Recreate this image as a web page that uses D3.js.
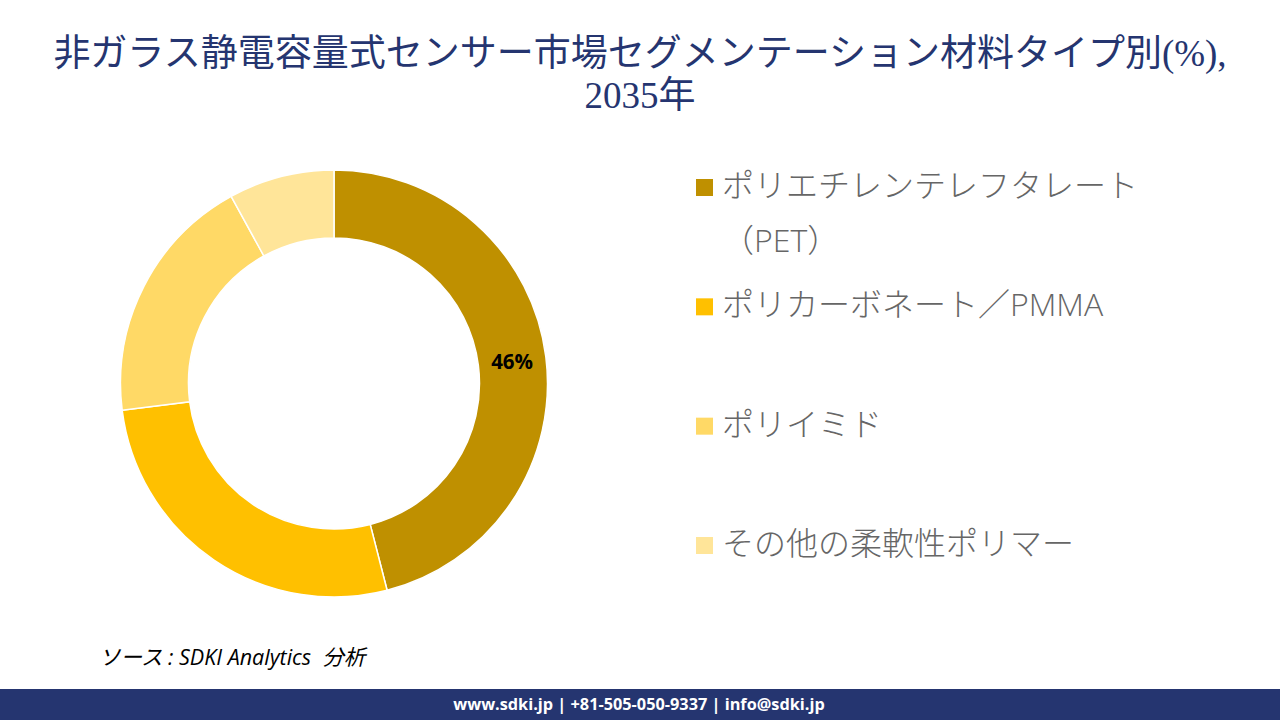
<!DOCTYPE html>
<html>
<head>
<meta charset="utf-8">
<script src="https://cdn.jsdelivr.net/npm/d3@7"></script>
<style>
  html, body { margin: 0; padding: 0; background: #fff; }
  svg { display: block; }
  text { font-family: "Open Sans", "Noto Sans CJK JP", sans-serif; }
</style>
</head>
<body>
<script>
const categories = ['ポリエチレンテレフタレート（PET）', 'ポリカーボネート／PMMA', 'ポリイミド', 'その他の柔軟性ポリマー'];
const shares = [46, 27, 19, 8];
const sliceColors = ['#bf9000', '#ffc000', '#ffd966', '#ffe599'];
const titleLines = ['非ガラス静電容量式センサー市場セグメンテーション材料タイプ別(%),', '2035年'];
const legendLines = [['ポリエチレンテレフタレート', '（PET）'], ['ポリカーボネート／PMMA'], ['ポリイミド'], ['その他の柔軟性ポリマー']];
const sourceText = 'ソース : SDKI Analytics  分析';
const footerText = 'www.sdki.jp | +81-505-050-9337 | info@sdki.jp';

const width = 1280;
const height = 720;
const cx = 334;
const cy = 383.5;
const outerR = 213.5;
const innerR = 145.5;

const svg = d3.select('body').append('svg')
  .attr('width', width)
  .attr('height', height);

// title
svg.append('g').selectAll('text')
  .data(titleLines)
  .join('text')
  .attr('x', 640)
  .attr('y', (d, i) => 66 + i * 42)
  .attr('text-anchor', 'middle')
  .attr('fill', '#253570')
  .style('font-family', '"Liberation Serif", "Noto Sans CJK JP", serif')
  .style('font-size', '37px')
  .text(d => d);

// donut
const pie = d3.pie().sort(null).value(d => d);
const arc = d3.arc().innerRadius(innerR).outerRadius(outerR);
const donut = svg.append('g').attr('transform', `translate(${cx},${cy})`);

donut.selectAll('path')
  .data(pie(shares))
  .join('path')
  .attr('d', arc)
  .attr('fill', (d, i) => sliceColors[i])
  .attr('stroke', '#fff')
  .attr('stroke-width', 1.5);

// only the biggest slice is labelled in the original
donut.selectAll('text')
  .data(pie(shares).slice(0, 1))
  .join('text')
  .attr('transform', d => `translate(${arc.centroid(d)})`)
  .attr('text-anchor', 'middle')
  .attr('dy', '0.38em')
  .style('font-size', '20.5px')
  .style('font-weight', 700)
  .attr('fill', '#000')
  .text(d => d.value + '%');

// legend
const legendY = d3.scalePoint()
  .domain(categories)
  .range([188, 546]);

const legend = svg.append('g').selectAll('g')
  .data(categories)
  .join('g')
  .attr('transform', d => `translate(696,${legendY(d)})`);

legend.append('rect')
  .attr('y', -9)
  .attr('width', 17)
  .attr('height', 17)
  .attr('fill', (d, i) => sliceColors[i]);

legend.append('text')
  .attr('fill', '#666')
  .style('font-size', '32px')
  .style('font-weight', 300)
  .selectAll('tspan')
  .data((d, i) => legendLines[i])
  .join('tspan')
  .attr('x', 26)
  .attr('y', (d, i) => 9 + i * 55)
  .text(d => d);

// source
svg.append('text')
  .attr('x', 99)
  .attr('y', 665)
  .attr('fill', '#000')
  .style('font-size', '21.5px')
  .style('font-style', 'italic')
  .style('font-weight', 400)
  .style('white-space', 'pre')
  .text(sourceText);

// footer
svg.append('rect')
  .attr('y', 689)
  .attr('width', width)
  .attr('height', 31)
  .attr('fill', '#253570');

svg.append('text')
  .attr('x', 639)
  .attr('y', 710)
  .attr('text-anchor', 'middle')
  .attr('fill', '#fff')
  .style('font-size', '16.3px')
  .style('font-weight', 700)
  .text(footerText);
</script>
</body>
</html>
